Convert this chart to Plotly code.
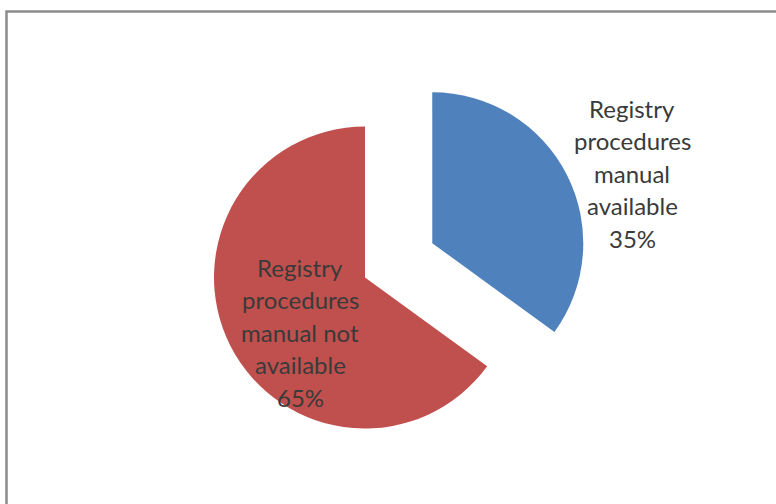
import plotly.graph_objects as go

# Survey result: availability of a registry procedures manual
labels = ["Registry procedures manual available",
          "Registry procedures manual not available"]
label_lines = [["Registry", "procedures", "manual", "available"],
               ["Registry", "procedures", "manual not", "available"]]
values = [35, 65]
colors = ["#4F81BD", "#C0504D"]
pulls = [0.5, 0]

W, H = 776, 504

fig = go.Figure(go.Pie(
    labels=labels,
    values=values,
    marker=dict(colors=colors, line=dict(width=0)),
    pull=pulls,
    sort=False,
    direction="clockwise",
    rotation=0,
    textinfo="none",
    showlegend=False,
    domain=dict(x=[137 / W, 593 / W], y=[0, 453 / H]),
))

# Data labels: one block of lines per slice, the last line carries the share
label_pos = [(632, 108), (300, 267)]   # pixel centre of first line
line_gap = 32.5
total = sum(values)
for lines, v, (px, py) in zip(label_lines, values, label_pos):
    text_lines = lines + [f"{round(100 * v / total)}%"]
    for i, t in enumerate(text_lines):
        fig.add_annotation(
            x=px / W, y=1 - (py + i * line_gap) / H,
            xref="paper", yref="paper",
            text=t, showarrow=False,
            xanchor="center", yanchor="middle",
            font=dict(family="Lato", size=24, color="#3a3a3a"),
        )

# Chart-area frame: left and top edges as one open path
top_y = 1 - 11.5 / H
left_x = 6.5 / W
fig.add_shape(
    type="path", xref="paper", yref="paper",
    path=f"M {left_x} -0.05 L {left_x} {top_y} L 1.05 {top_y}",
    line=dict(color="#8c8c8c", width=2.5),
    fillcolor="rgba(0,0,0,0)",
)

fig.update_layout(
    width=W, height=H,
    margin=dict(l=0, r=0, t=0, b=0),
    paper_bgcolor="white",
    plot_bgcolor="white",
)

fig.write_html("out.html", config={"displayModeBar": False})
